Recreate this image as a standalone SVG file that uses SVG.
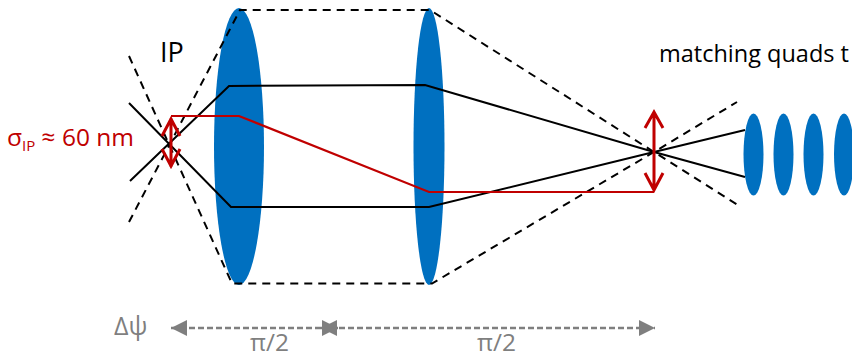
<svg xmlns="http://www.w3.org/2000/svg" width="852" height="357" viewBox="0 0 852 357">
<defs>
<marker id="g" viewBox="0 0 16 16" refX="16" refY="8" markerWidth="16" markerHeight="16" markerUnits="userSpaceOnUse" orient="auto-start-reverse"><path d="M0 0L16 8L0 16Z" fill="#7f7f7f"/></marker>
</defs>
<style>
.l{fill:#0070c0}
.k{fill:none;stroke:#000;stroke-width:2}
.d{fill:none;stroke:#000;stroke-width:2;stroke-dasharray:8 6}
.r{fill:none;stroke:#c00000;stroke-width:2.2}
.ra{fill:none;stroke:#c00000;stroke-width:3}
.gl{fill:none;stroke:#7f7f7f;stroke-width:2.6;stroke-dasharray:6 3}
text{font-family:"Open Sans","Noto Sans","Liberation Sans",sans-serif}
</style>
<g id="lens-1"><ellipse class="l" cx="239" cy="146.500" rx="25" ry="138.500"/></g>
<g id="lens-2"><ellipse class="l" cx="429" cy="146.500" rx="15.500" ry="138.500"/></g>
<g id="quad-1"><ellipse class="l" cx="753.500" cy="154.500" rx="10" ry="41"/></g>
<g id="quad-2"><ellipse class="l" cx="783.500" cy="154.500" rx="10" ry="41"/></g>
<g id="quad-3"><ellipse class="l" cx="813.500" cy="154.500" rx="10" ry="41"/></g>
<g id="quad-4"><ellipse class="l" cx="844" cy="154.500" rx="10" ry="41"/></g>
<g id="connectors">
<path class="d" d="M129 56L232 283.500H432L654 152L737 102"/>
<path class="d" d="M129 222L240 10H430L654 152L741 207"/>
<path class="k" d="M129 103L231 207H429L654 152L745 130"/>
<path class="k" d="M130 181L229 86L425 85L654 152L745 177"/>
<path class="r" d="M171 116H239L429 192H654"/>
<path class="ra" d="M171 118V167M162 136L171 119L180 136M162 149L171 166L180 149"/>
<path class="ra" d="M654 112V190M645 128L654 112L663 128M645 173L654 190L663 173"/>
<path class="gl" d="M171 328H338" marker-start="url(#g)" marker-end="url(#g)"/>
<path class="gl" d="M321 328H655" marker-start="url(#g)" marker-end="url(#g)"/>
</g>
<g id="labels">
<text x="160" y="62" font-size="27" fill="#000">IP</text>
<text x="659" y="62" font-size="23.500" fill="#000">matching quads t</text>
<text x="7" y="146" font-size="24.500" fill="#c00000">σ<tspan font-size="15" dy="5">IP</tspan><tspan dy="-5"> ≈ 60 nm</tspan></text>
<text x="114" y="335" font-size="25" fill="#7f7f7f">Δψ</text>
<text x="250" y="351" font-size="24.500" fill="#7f7f7f">π/2</text>
<text x="477" y="351" font-size="24.500" fill="#7f7f7f">π/2</text>
</g>
</svg>
